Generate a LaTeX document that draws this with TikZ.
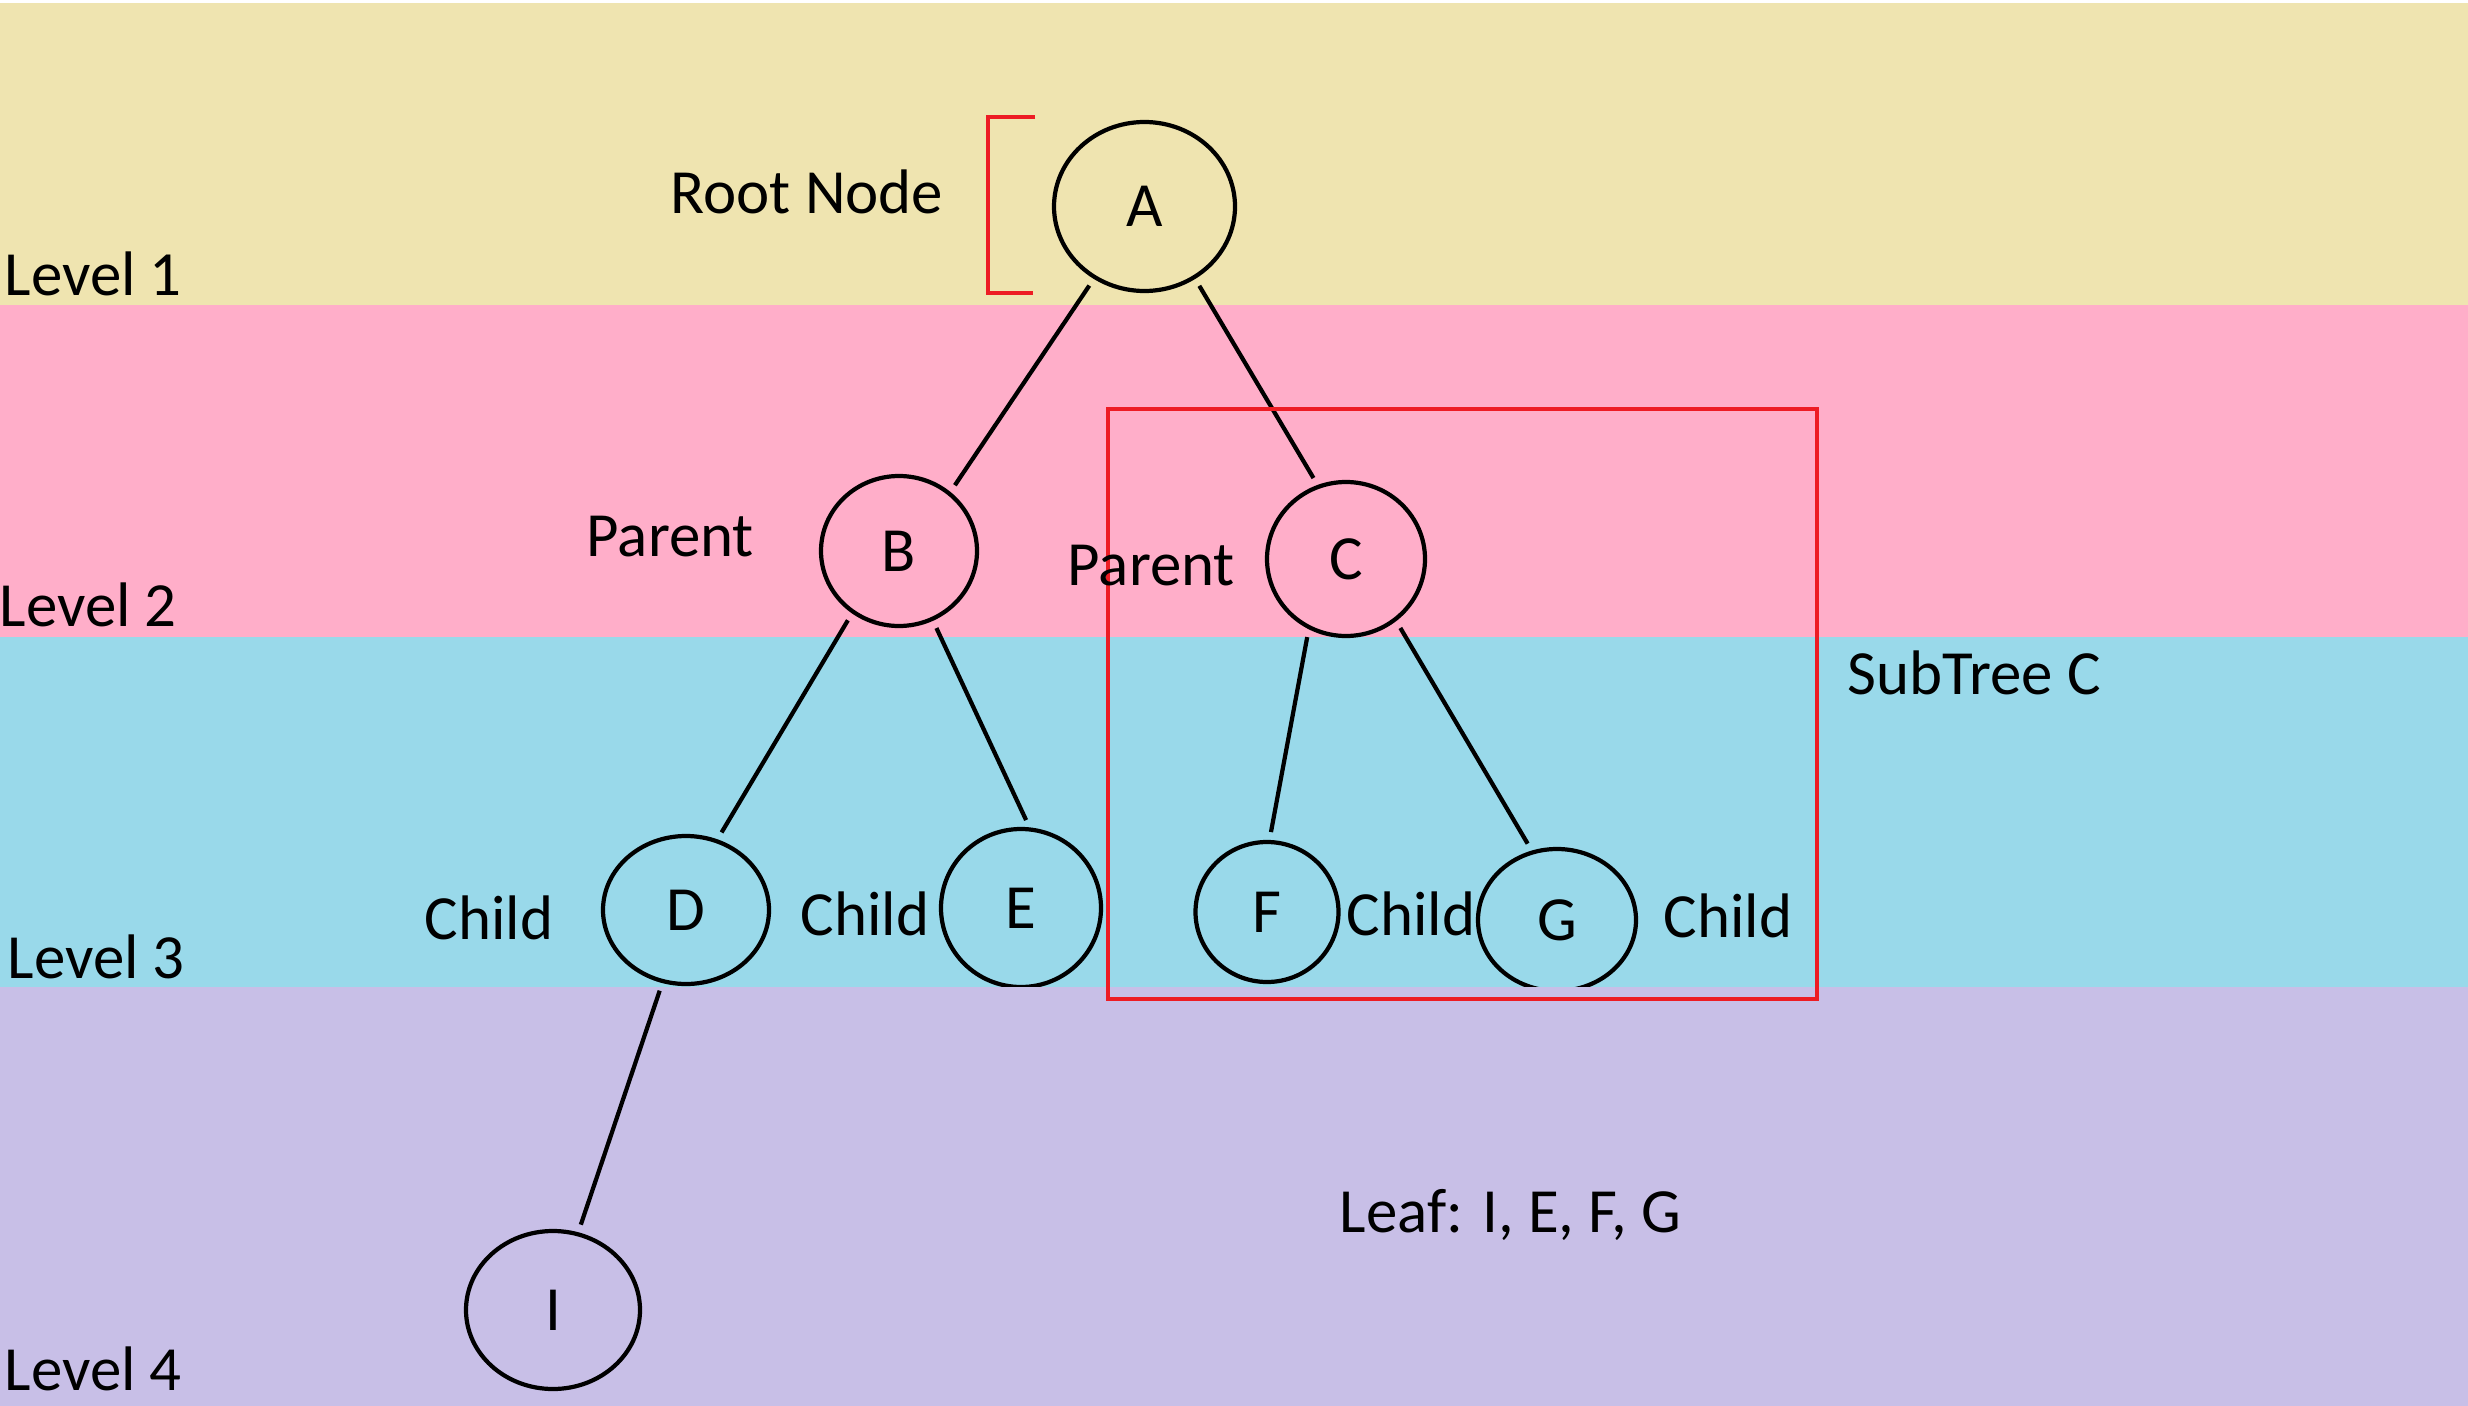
\documentclass[tikz,border=0pt]{standalone}
\usepackage{fontspec}
\setmainfont{Carlito}
\usetikzlibrary{shapes.geometric}
\definecolor{lvlone}{RGB}{239,228,176}
\definecolor{lvltwo}{RGB}{255,174,201}
\definecolor{lvlthree}{RGB}{153,217,234}
\definecolor{lvlfour}{RGB}{200,191,231}
\definecolor{redpen}{RGB}{237,28,36}
\begin{document}
\begin{tikzpicture}[vertex/.style={draw,ellipse,line width=1.2pt,inner sep=0pt,font=\fontsize{17.9}{20}\selectfont},
  lbl/.style={inner sep=0pt,anchor=base west,font=\fontsize{17.9}{20}\selectfont},
  every edge/.style={draw,line width=1.2pt,shorten <=0.08cm,shorten >=0.08cm}]
  \useasboundingbox[fill=white] (0,0) rectangle (24.68,-14.06);
  \fill[lvlone] (0,-0.035) rectangle (24.68,-3.05);
  \fill[lvltwo] (0,-3.05) rectangle (24.68,-6.37);
  \fill[lvlthree] (0,-6.37) rectangle (24.68,-9.87);
  \node[vertex,minimum width=1.81cm,minimum height=1.69cm] (A) at (11.445,-2.065) {A};
  \node[vertex,minimum width=1.56cm,minimum height=1.50cm] (B) at (8.99,-5.51) {B};
  \node[vertex,minimum width=1.58cm,minimum height=1.54cm] (C) at (13.46,-5.59) {C};
  \node[vertex,minimum width=1.66cm,minimum height=1.48cm] (D) at (6.86,-9.10) {D};
  \node[vertex,minimum width=1.60cm,minimum height=1.58cm] (E) at (10.21,-9.08) {E};
  \node[vertex,minimum width=1.43cm,minimum height=1.40cm] (F) at (12.67,-9.12) {F};
  \node[vertex,minimum width=1.58cm,minimum height=1.42cm] (G) at (15.57,-9.20) {G};
  \fill[lvlfour] (0,-9.87) rectangle (24.68,-14.06);
  \node[vertex,minimum width=1.74cm,minimum height=1.58cm] (I) at (5.53,-13.10) {I};
  \path (A.-125.7) edge (B.49.8);
  \path (A.-55.7) edge (C.111);
  \path (B.-127) edge (D.66.4);
  \path (B.-64) edge (E.84);
  \path (C.-118) edge (F.88.5);
  \path (C.-51.7) edge (G.110);
  \path (D.-108.6) edge (I.72);
  % root bracket and subtree box
  \draw[redpen,line width=1.3pt] (10.35,-1.17) -- (9.88,-1.17) -- (9.88,-2.93) -- (10.33,-2.93);
  \draw[redpen,line width=1.3pt] (11.08,-4.09) rectangle (18.17,-9.99);
  \node[lbl] (root) at (6.70,-2.14) {Root Node};
  \node[lbl] (l1) at (0.04,-2.95) {Level 1};
  \node[lbl] (l2) at (-0.01,-6.26) {Level 2};
  \node[lbl] (l3) at (0.07,-9.78) {Level 3};
  \node[lbl] (l4) at (0.04,-13.90) {Level 4};
  \node[lbl] (pb) at (5.86,-5.56) {Parent};
  \node[lbl] (pc) at (10.67,-5.85) {Parent};
  \node[lbl] (sub) at (18.47,-6.94) {SubTree C};
  \node[lbl] (cd) at (4.24,-9.39) {Child};
  \node[lbl] (ce) at (8.00,-9.35) {Child};
  \node[lbl] (cf) at (13.46,-9.35) {Child};
  \node[lbl] (cg) at (16.63,-9.37) {Child};
  \node[lbl] (leaf) at (13.39,-12.32) {Leaf: I, E, F, G};
\end{tikzpicture}
\end{document}
